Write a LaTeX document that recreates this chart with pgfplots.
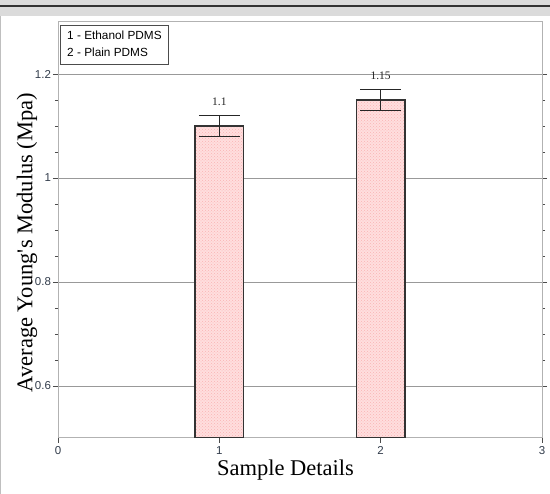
\documentclass[border=0pt]{standalone}
\usepackage{pgfplots}
\usepackage{pgfplotstable}
\pgfplotsset{compat=1.18}
\usepackage{fontspec}
\setmainfont{Liberation Serif}
\newfontfamily\arial{Liberation Sans}
\usetikzlibrary{patterns}
\pgfplotstableread{
x y err label
1 1.10 0.02 1.1
2 1.15 0.02 1.15
}\datatab
\begin{document}
\begin{tikzpicture}
\path[use as bounding box] (0pt,0pt) rectangle (550pt,494pt);
\fill[black!14] (0pt,478pt) rectangle (550pt,494pt);
\draw[line width=2pt, black!80] (0pt,488pt) -- (550pt,488pt);
\draw[black!25, line width=0.8pt] (0.4pt,0pt) -- (0.4pt,478pt);
\begin{axis}[
  at={(58pt,56pt)}, anchor=south west,
  width=484pt, height=416pt, scale only axis,
  xmin=0, xmax=3, ymin=0.5, ymax=1.3,
  xtick={0,1,2,3},
  ytick={0.6,0.8,1,1.2},
  yticklabels={0.6,0.8,1,1.2},
  minor y tick num=3,
  xtick pos=bottom, ytick pos=both,
  tick align=outside,
  major tick length=5pt, minor tick length=3pt,
  tick style={black!70, line width=0.6pt},
  axis line style={black!30, line width=1pt},
  ymajorgrids, major grid style={black!40, line width=0.6pt},
  /pgf/number format/assume math mode=true,
  tick label style={font=\arial\fontsize{11.5}{12}\selectfont, text={rgb,255:red,50;green,60;blue,75}},
  yticklabel style={xshift=1.5pt},
  xlabel={Sample Details},
  ylabel={Average Young\textquotesingle s Modulus (Mpa)},
  label style={font=\fontsize{22.5}{26}\selectfont},
  xlabel style={at={(axis description cs:0.47,-0.077)}, anchor=center},
  ylabel style={at={(axis description cs:-0.064,0.47)}, anchor=center},
  legend style={at={(axis description cs:0.004,0.993)}, anchor=north west,
    font=\arial\fontsize{11.8}{13}\selectfont, draw=black!70, line width=0.6pt,
    inner xsep=5pt, inner ysep=4pt, row sep=3pt, legend cell align=left},
  clip=true,
]
\addplot[ybar, bar width=0.3, bar shift=0pt, forget plot,
  fill={rgb,255:red,255;green,222;blue,222},
  postaction={pattern=crosshatch dots, pattern color={rgb,255:red,250;green,180;blue,180}},
  draw=black!80, line width=1.3pt,
  error bars/.cd, y dir=both, y explicit,
  error bar style={black!85, line width=1pt},
  error mark options={rotate=90, black!85, line width=1pt, mark size=20.5pt},
  ] table[x=x, y=y, y error=err] {\datatab};
\addplot[only marks, mark=none, forget plot,
  nodes near coords, point meta=explicit symbolic,
  nodes near coords style={font=\fontsize{11.5}{12}\selectfont, anchor=south, inner sep=0pt, yshift=20pt, text=black!85}]
  table[x=x, y=y, meta=label] {\datatab};
\addlegendimage{empty legend}\addlegendentry{1 - Ethanol PDMS}
\addlegendimage{empty legend}\addlegendentry{2 - Plain PDMS}
\end{axis}
\end{tikzpicture}
\end{document}
